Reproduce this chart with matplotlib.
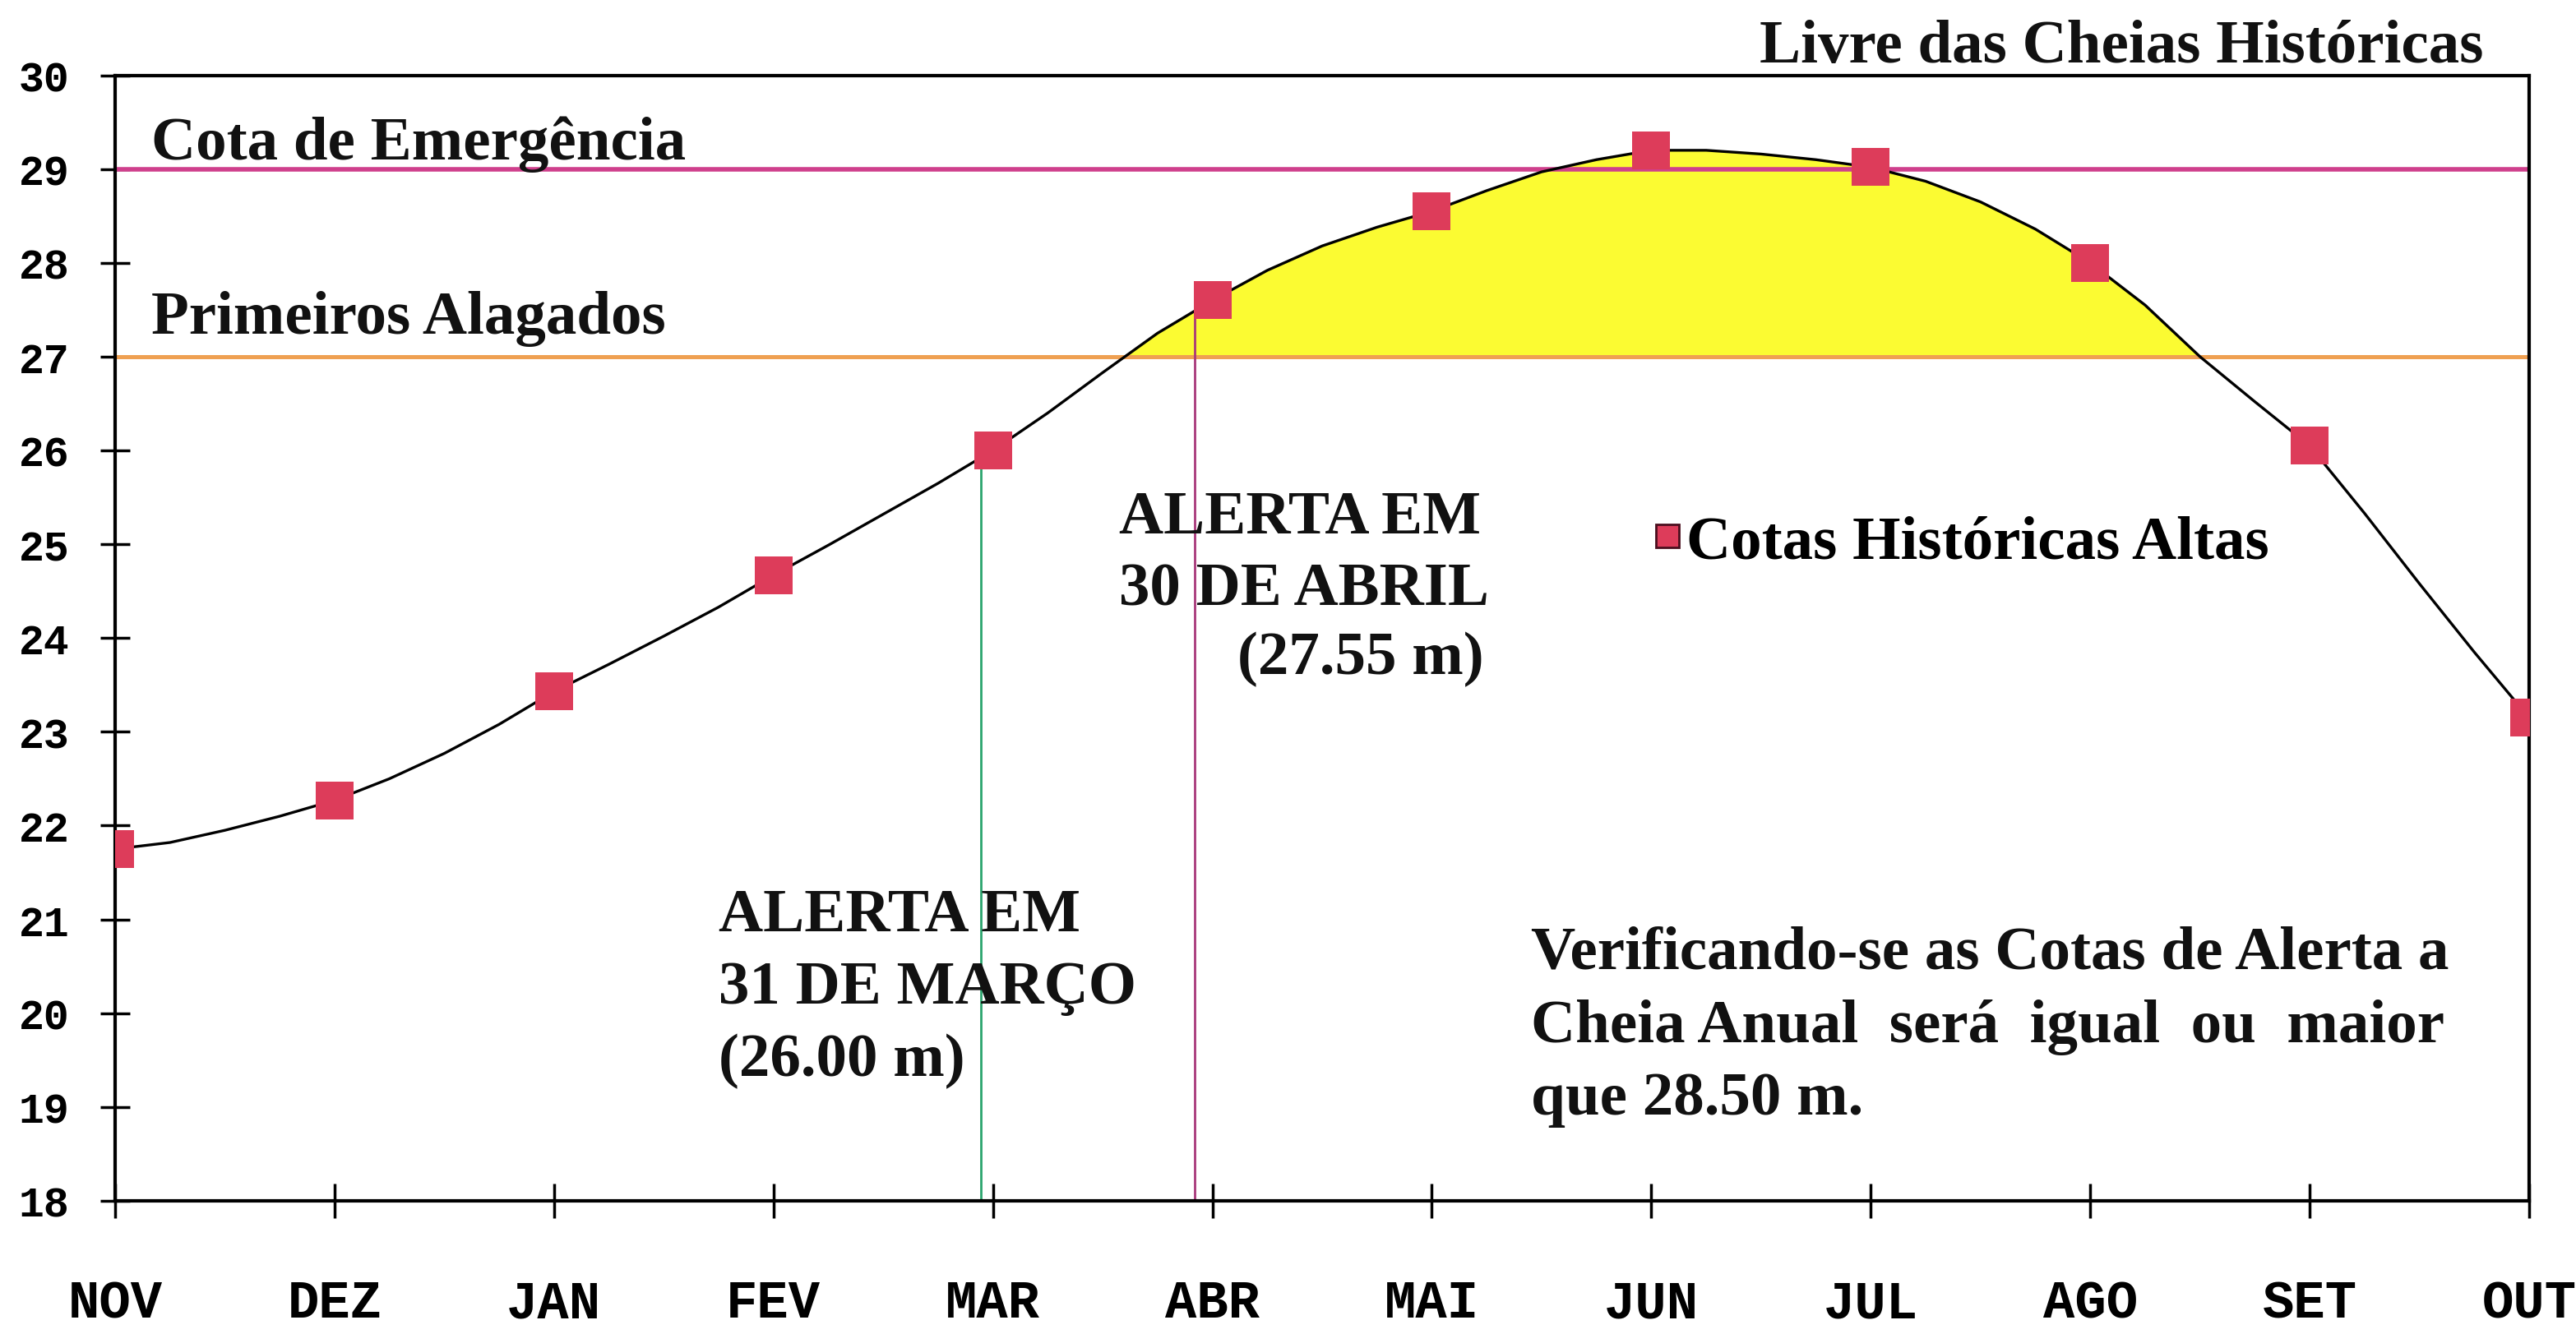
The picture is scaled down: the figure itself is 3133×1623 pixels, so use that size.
import matplotlib
matplotlib.use("Agg")
import matplotlib.pyplot as plt
import numpy as np

# meses do ano hidrologico (novembro a outubro)
months = ["NOV", "DEZ", "JAN", "FEV", "MAR", "ABR", "MAI", "JUN", "JUL", "AGO", "SET", "OUT"]
month_pos = list(range(len(months)))

# cotas historicas altas (m), uma por mes
cotas_altas = [21.75, 22.27, 23.43, 24.67, 26.00, 27.60, 28.55, 29.20, 29.02, 28.00, 26.05, 23.15]

# curva envoltoria, lida a cada quarto de mes
curva_x = [0, 0.25, 0.5, 0.75, 1, 1.25, 1.5, 1.75, 2, 2.25, 2.5, 2.75,
           3, 3.25, 3.5, 3.75, 4, 4.25, 4.5, 4.75, 5, 5.25, 5.5, 5.75,
           6, 6.25, 6.5, 6.75, 7, 7.25, 7.5, 7.75, 8, 8.25, 8.5, 8.75,
           9, 9.25, 9.5, 9.75, 10, 10.25, 10.5, 10.75, 11]
curva_y = [21.75, 21.82, 21.95, 22.10, 22.27, 22.50, 22.77, 23.08, 23.43, 23.72, 24.02, 24.33,
           24.67, 24.99, 25.32, 25.65, 26.00, 26.40, 26.83, 27.25, 27.60, 27.92, 28.18, 28.38,
           28.55, 28.77, 28.97, 29.10, 29.20, 29.20, 29.16, 29.10, 29.02, 28.87, 28.65, 28.36,
           28.00, 27.55, 27.00, 26.52, 26.05, 25.33, 24.58, 23.85, 23.15]

cota_emergencia = 29.0
primeiros_alagados = 27.0

# alertas: posicao no eixo dos meses e cota
alert_x = [3.945, 4.92]
alert_cota = [26.00, 27.55]
alert_colors = ["#2BA56E", "#A8387A"]

yticks = list(range(18, 31))

SERIF = "Liberation Serif"
MONO = "Liberation Mono"
TXT = 54

fig = plt.figure(figsize=(31.33, 16.24), dpi=100, facecolor="w")
ax = fig.add_axes([0.0447, 0.0998, 0.9371, 0.8432])

cx = np.array(curva_x)
cy = np.array(curva_y)

# area acima dos primeiros alagados
ax.fill_between(cx, cy, primeiros_alagados, where=cy >= primeiros_alagados,
                interpolate=True, color="#FBFB32", linewidth=0, zorder=1)

ax.axhline(cota_emergencia, color="#CF3F8C", linewidth=4.0, zorder=2)
ax.axhline(primeiros_alagados, color="#EFA052", linewidth=3.6, zorder=2)

for x, c, col in zip(alert_x, alert_cota, alert_colors):
    ax.plot([x, x], [18, c], color=col, linewidth=2.0, zorder=2)

ax.plot(cx, cy, color="black", linewidth=2.4, zorder=3)
ax.plot(month_pos, cotas_altas, linestyle="none", marker="s", markersize=33,
        markeredgewidth=0, color="#DD3C5A", label="Cotas Históricas Altas", zorder=5)

ax.set_xlim(0, 11)
ax.set_ylim(18, 30)
ax.set_xticks(month_pos)
ax.set_xticklabels(months, fontfamily=MONO, fontweight="bold", fontsize=46)
ax.set_yticks(yticks)
ax.set_yticklabels([str(v) for v in yticks], fontfamily=MONO, fontweight="bold", fontsize=37)
ax.tick_params(axis="x", direction="inout", length=30, width=2.5, pad=53)
ax.tick_params(axis="y", direction="inout", length=26, width=2.5, pad=27)
for s in ax.spines.values():
    s.set_linewidth(3)

bold = dict(fontfamily=SERIF, fontweight="bold", fontsize=TXT, color="#111111")

ax.text(0.165, 29.11, "Cota de Emergência", va="baseline", ha="left", **bold)
ax.text(0.165, 27.25, "Primeiros Alagados", va="baseline", ha="left", **bold)
ax.text(0.981, 1.012, "Livre das Cheias Históricas", transform=ax.transAxes,
        va="baseline", ha="right", **bold)

ax.text(4.575, 25.12, "ALERTA EM", va="baseline", ha="left", **bold)
ax.text(4.575, 24.36, "30 DE ABRIL", va="baseline", ha="left", **bold)
ax.text(6.238, 23.62, "(27.55 m)", va="baseline", ha="right", **bold)

ax.text(2.75, 20.88, "ALERTA EM", va="baseline", ha="left", **bold)
ax.text(2.75, 20.11, "31 DE MARÇO", va="baseline", ha="left", **bold)
ax.text(2.75, 19.34, "(26.00 m)", va="baseline", ha="left", **bold)

ax.text(6.452, 20.48, "Verificando-se as Cotas de Alerta a", va="baseline", ha="left", **bold)
ax.text(6.452, 19.70, "Cheia Anual  será  igual  ou  maior", va="baseline", ha="left", **bold)
ax.text(6.452, 18.93, "que 28.50 m.", va="baseline", ha="left", **bold)

leg = ax.legend(loc="center left", bbox_to_anchor=(0.638, 0.585), frameon=False,
                prop=dict(family=SERIF, weight="bold", size=TXT),
                markerscale=0.6, handlelength=0.4, handletextpad=0.1,
                borderpad=0, borderaxespad=0)
leg.legend_handles[0].set_markeredgecolor("#4A0E1E")
leg.legend_handles[0].set_markeredgewidth(2)

fig.savefig("out.png", dpi=100, facecolor="w")
